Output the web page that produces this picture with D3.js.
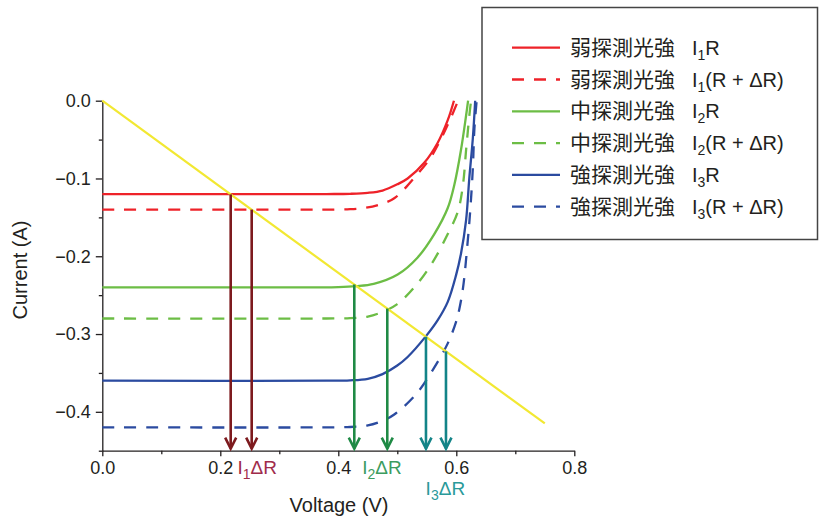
<!DOCTYPE html>
<html>
<head>
<meta charset="utf-8">
<script src="https://cdn.jsdelivr.net/npm/d3@7"></script>
<style>
  body { margin: 0; background: #fff; }
  svg { font-family: "Liberation Sans", Arial, "Noto Sans CJK TC", sans-serif; }
</style>
</head>
<body>
<script>
// I-V curves, [voltage V, current A]
var weakR   = [[0,-0.12],[0.38,-0.12],[0.42,-0.1197],[0.45,-0.1185],[0.475,-0.1155],[0.5,-0.1075],[0.5175,-0.100],[0.546,-0.0795],[0.5685,-0.054],[0.5855,-0.025],[0.596,0]];
var weakRd  = [[0,-0.14],[0.38,-0.14],[0.42,-0.1395],[0.445,-0.1378],[0.47,-0.1335],[0.4948,-0.1255],[0.5316,-0.0965],[0.557,-0.0725],[0.574,-0.049],[0.589,-0.025],[0.603,0]];
var midR    = [[0,-0.24],[0.36,-0.24],[0.4,-0.2397],[0.43,-0.2385],[0.46,-0.2355],[0.5006,-0.2235],[0.5345,-0.2015],[0.5627,-0.1715],[0.5855,-0.138],[0.5967,-0.108],[0.608,-0.063],[0.6166,-0.019],[0.62,0]];
var midRd   = [[0,-0.28],[0.38,-0.28],[0.42,-0.2795],[0.45,-0.2775],[0.475,-0.2715],[0.5,-0.2615],[0.5316,-0.2375],[0.56,-0.2075],[0.5855,-0.1715],[0.6025,-0.143],[0.611,-0.11],[0.617,-0.06],[0.622,-0.02],[0.625,0]];
var strongR = [[0,-0.36],[0.38,-0.36],[0.42,-0.3595],[0.45,-0.3575],[0.475,-0.3515],[0.5,-0.3405],[0.5175,-0.3295],[0.5486,-0.3027],[0.5685,-0.2821],[0.5855,-0.2586],[0.5996,-0.2243],[0.608,-0.1964],[0.6166,-0.1536],[0.622,-0.100],[0.628,-0.0486],[0.632,0]];
var strongRd= [[0,-0.42],[0.38,-0.42],[0.42,-0.4195],[0.45,-0.4175],[0.475,-0.4115],[0.4948,-0.4035],[0.5316,-0.3775],[0.56,-0.3464],[0.5855,-0.312],[0.5996,-0.2843],[0.6048,-0.269],[0.6115,-0.24],[0.6195,-0.1793],[0.624,-0.137],[0.628,-0.087],[0.6307,-0.0357],[0.6345,0]];

var seriesNames = ['弱探測光強','弱探測光強','中探測光強','中探測光強','強探測光強','強探測光強'];
var seriesSub   = ['1','1','2','2','3','3'];
var seriesTail  = ['R','(R + ΔR)','R','(R + ΔR)','R','(R + ΔR)'];
var seriesColor = ['#ee2229','#ee2229','#6cbd45','#6cbd45','#2b4ba0','#2b4ba0'];
var seriesDash  = [false,true,false,true,false,true];
var seriesData  = [weakR, weakRd, midR, midRd, strongR, strongRd];

// load line
var loadV = [0, 0.75];
var loadI = [0, -0.415];

// operating-point arrows
var arrowV = [0.2176, 0.2532, 0.4271, 0.483, 0.5486, 0.5825];
var arrowI = [-0.1204, -0.140, -0.2363, -0.2672, -0.3035, -0.3223];
var arrowColor = ['#7d1a1e','#7d1a1e','#1f8a45','#1f8a45','#138488','#138488'];

// delta labels
var deltaSub   = ['1','2','3'];
var deltaV     = [0.229, 0.4405, 0.548];
var deltaColor = ['#a02c4b','#3c9c60','#2a9a9a'];

var xTicks = [0, 0.2, 0.4, 0.6, 0.8];
var xMinor = [0.1, 0.3, 0.5, 0.7];
var yTicks = [0, -0.1, -0.2, -0.3, -0.4];
var yMinor = [-0.05, -0.15, -0.25, -0.35, -0.45];

var width = 819, height = 522;
var x = d3.scaleLinear().domain([0, 0.8]).range([102.3, 574.3]);
var y = d3.scaleLinear().domain([-0.45, 0]).range([450.7, 100.7]);

var svg = d3.select('body').append('svg')
    .attr('width', width)
    .attr('height', height);

/* minor ticks first, then labelled axes */
svg.append('g')
    .attr('transform', 'translate(0,' + y(-0.45) + ')')
    .call(d3.axisBottom(x).tickValues(xMinor).tickSize(3.5).tickFormat(''))
    .call(g => g.select('.domain').remove());
svg.append('g')
    .attr('transform', 'translate(' + x(0) + ',0)')
    .call(d3.axisLeft(y).tickValues(yMinor).tickSize(3.5).tickFormat(''))
    .call(g => g.select('.domain').remove());

svg.append('g')
    .attr('transform', 'translate(0,' + y(-0.45) + ')')
    .call(d3.axisBottom(x).tickValues(xTicks).tickSize(5.5).tickSizeOuter(0).tickPadding(5).tickFormat(d3.format('.1f')));
svg.append('g')
    .attr('transform', 'translate(' + x(0) + ',0)')
    .call(d3.axisLeft(y).tickValues(yTicks).tickSize(6.5).tickSizeOuter(0).tickPadding(5).tickFormat(d3.format('.1f')));

svg.selectAll('.tick line, .domain').attr('stroke', '#231f20').attr('stroke-width', 1.3);
svg.selectAll('.tick text').attr('fill', '#231f20').style('font-size', '18px');

svg.append('text')
    .attr('x', 339).attr('y', 512)
    .attr('text-anchor', 'middle')
    .attr('fill', '#231f20')
    .style('font-size', '20px')
    .text('Voltage (V)');
svg.append('text')
    .attr('transform', 'translate(27,270) rotate(-90)')
    .attr('text-anchor', 'middle')
    .attr('fill', '#231f20')
    .style('font-size', '20px')
    .text('Current (A)');

/* curves */
var line = d3.line()
    .x(d => x(d[0]))
    .y(d => y(d[1]))
    .curve(d3.curveCatmullRom.alpha(0.5));

svg.append('g').selectAll('path').data(seriesData).enter().append('path')
    .attr('d', line)
    .attr('fill', 'none')
    .attr('stroke', (d, i) => seriesColor[i])
    .attr('stroke-width', 2.3)
    .attr('stroke-dasharray', (d, i) => seriesDash[i] ? '12,10' : null);

svg.append('line')
    .attr('x1', x(loadV[0])).attr('y1', y(loadI[0]))
    .attr('x2', x(loadV[1])).attr('y2', y(loadI[1]))
    .attr('stroke', '#f2e832')
    .attr('stroke-width', 2.2);

/* arrows down to the voltage axis */
var arrows = svg.append('g').selectAll('g').data(arrowV).enter().append('g')
    .attr('stroke', (d, i) => arrowColor[i])
    .attr('stroke-width', 2.6)
    .attr('fill', 'none');
arrows.append('line')
    .attr('x1', d => x(d)).attr('x2', d => x(d))
    .attr('y1', (d, i) => y(arrowI[i]))
    .attr('y2', y(-0.45) - 2);
arrows.append('path')
    .attr('d', d => 'M' + (x(d) - 5.5) + ',' + (y(-0.45) - 13) + 'L' + x(d) + ',' + (y(-0.45) - 2) + 'L' + (x(d) + 5.5) + ',' + (y(-0.45) - 13));

/* I_n ΔR labels */
svg.append('g').selectAll('text').data(deltaSub).enter().append('text')
    .attr('x', (d, i) => x(deltaV[i]))
    .attr('y', (d, i) => i == 2 ? 495 : 473.5)
    .attr('fill', (d, i) => deltaColor[i])
    .style('font-size', '19px')
    .each(function(d) {
        var t = d3.select(this);
        t.append('tspan').text('I');
        t.append('tspan').attr('dy', 5).style('font-size', '14px').text(d);
        t.append('tspan').attr('dy', -5).text('ΔR');
    });

/* legend */
svg.append('rect')
    .attr('x', 482).attr('y', 7.5)
    .attr('width', 335.5).attr('height', 232)
    .attr('fill', '#fff')
    .attr('stroke', '#444')
    .attr('stroke-width', 1.5);

var legend = svg.append('g').selectAll('g').data(seriesNames).enter().append('g')
    .attr('transform', (d, i) => 'translate(0,' + (47.7 + i * 31.8) + ')');
legend.append('line')
    .attr('x1', 512).attr('x2', 560)
    .attr('stroke', (d, i) => seriesColor[i])
    .attr('stroke-width', 2.3)
    .attr('stroke-dasharray', (d, i) => seriesDash[i] ? '12,10' : null);
legend.append('text')
    .attr('x', 570).attr('y', 7)
    .attr('fill', '#231f20')
    .style('font-size', '21px')
    .style('font-family', '"Noto Sans CJK TC", sans-serif')
    .text(d => d);
legend.append('text')
    .attr('x', 692).attr('y', 7)
    .attr('fill', '#231f20')
    .style('font-size', '20px')
    .each(function(d, i) {
        var t = d3.select(this);
        t.append('tspan').text('I');
        t.append('tspan').attr('dy', 5).style('font-size', '14px').text(seriesSub[i]);
        t.append('tspan').attr('dy', -5).text(seriesTail[i]);
    });
</script>
</body>
</html>
